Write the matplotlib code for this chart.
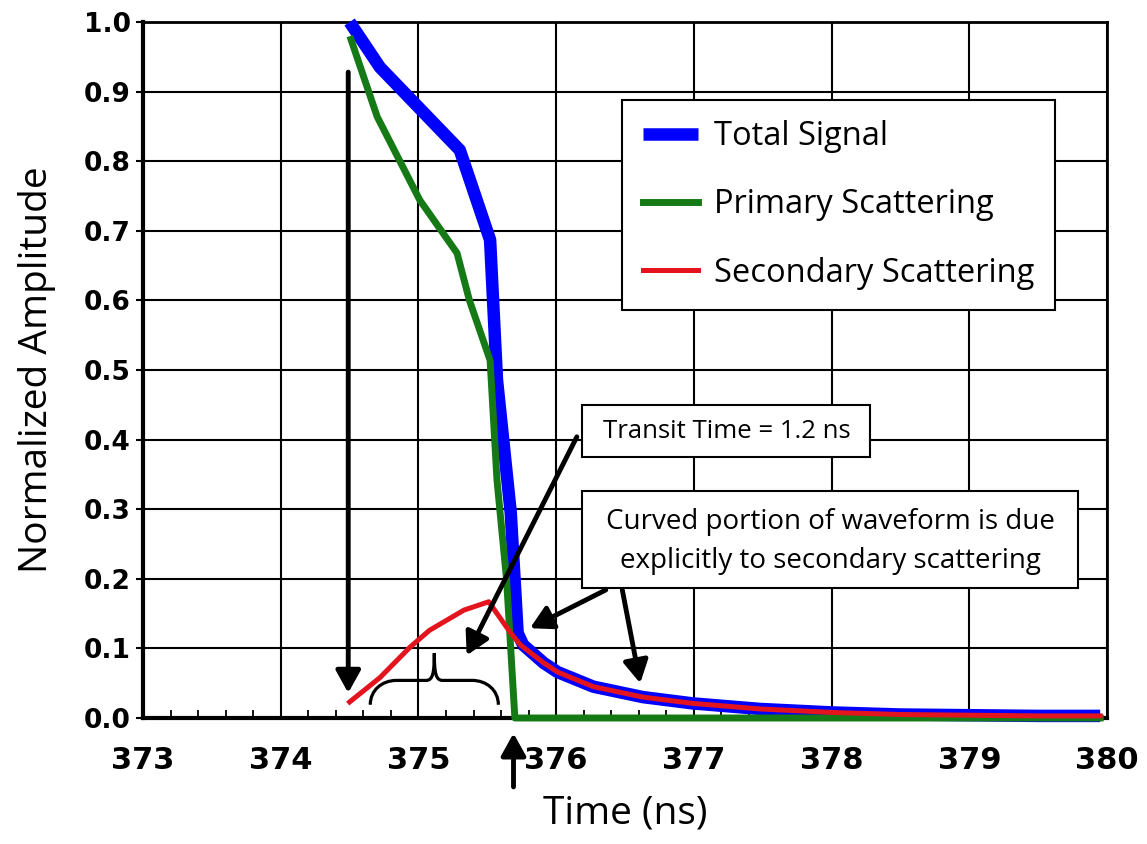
import matplotlib
matplotlib.use("Agg")
import matplotlib.pyplot as plt
from matplotlib.patches import Rectangle, PathPatch
from matplotlib.path import Path

# total signal (blue)
t_total = [374.50, 374.72, 375.30, 375.52, 375.57, 375.67, 375.72, 375.76, 375.91,
           376.01, 376.27, 376.63, 376.99, 377.48, 378.0, 378.5, 379.0, 379.5, 379.95]
total = [1.00, 0.935, 0.816, 0.687, 0.486, 0.295, 0.122, 0.105, 0.079,
         0.066, 0.045, 0.030, 0.021, 0.013, 0.008, 0.005, 0.004, 0.003, 0.003]

# primary scattering (green)
t_primary = [374.51, 374.70, 375.01, 375.28, 375.37, 375.52, 375.57, 375.64, 375.70, 379.95]
primary = [0.975, 0.864, 0.744, 0.668, 0.600, 0.514, 0.342, 0.198, 0.0, 0.0]

# secondary scattering (red)
t_secondary = [374.50, 374.72, 374.94, 375.08, 375.33, 375.51, 375.67, 375.74, 375.91,
               376.01, 376.27, 376.63, 376.99, 377.48, 378.0, 378.5, 379.0, 379.5, 379.95]
secondary = [0.023, 0.058, 0.102, 0.126, 0.155, 0.167, 0.122, 0.105, 0.079,
             0.066, 0.045, 0.030, 0.021, 0.013, 0.008, 0.005, 0.004, 0.003, 0.003]

x_ticks = [373, 374, 375, 376, 377, 378, 379, 380]
y_ticks = [0.0, 0.1, 0.2, 0.3, 0.4, 0.5, 0.6, 0.7, 0.8, 0.9, 1.0]

transit_text = "Transit Time = 1.2 ns"
curved_text = "Curved portion of waveform is due\nexplicitly to secondary scattering"

label_font = ["Open Sans", "DejaVu Sans"]
box_font = ["Open Sans", "DejaVu Sans"]

fig = plt.figure(figsize=(11.47, 8.44), dpi=100)
ax = fig.add_axes([0.1247, 0.1493, 0.8405, 0.8246])

ax.plot(t_total, total, color="#0000ff", lw=9, label="Total Signal",
        clip_on=False, zorder=3, solid_capstyle="butt")
ax.plot(t_primary, primary, color="#157a15", lw=5, label="Primary Scattering",
        clip_on=False, zorder=4)
ax.plot(t_secondary, secondary, color="#e3141e", lw=3.6, label="Secondary Scattering",
        clip_on=False, zorder=4)

ax.set_xlim(373, 380)
ax.set_ylim(0, 1.0)
ax.set_xticks(x_ticks)
ax.set_yticks(y_ticks)
ax.set_xticks([373 + 0.2 * i for i in range(36)], minor=True)
ax.set_xticklabels([str(v) for v in x_ticks])
ax.set_yticklabels([f"{v:.1f}" for v in y_ticks])
ax.grid(True, which="major", color="black", lw=1.5, zorder=1)
ax.set_axisbelow(True)

for lbl in ax.get_xticklabels() + ax.get_yticklabels():
    lbl.set_fontfamily("DejaVu Sans")
    lbl.set_fontweight("bold")
ax.tick_params(axis="y", labelsize=19, length=5, width=1.5, pad=4)
ax.tick_params(axis="x", which="major", labelsize=22, length=0, pad=20)
ax.tick_params(axis="x", which="minor", direction="in", length=6, width=1.3)

for side in ("left", "bottom"):
    ax.spines[side].set_linewidth(3)
for side in ("top", "right"):
    ax.spines[side].set_linewidth(2)

ax.set_ylabel("Normalized Amplitude", fontsize=28, family=label_font, labelpad=20)
ax.set_xlabel("Time (ns)", fontsize=28, family=label_font, labelpad=14)

leg = ax.legend(loc="upper left", bbox_to_anchor=(376.48, 0.888),
                bbox_transform=ax.transData, frameon=True, fancybox=False,
                edgecolor="black", framealpha=1, prop={"family": box_font, "size": 23.5},
                handlelength=1.7, handletextpad=0.5, labelspacing=1.08,
                borderpad=0.62, borderaxespad=0)
leg.get_frame().set_linewidth(1.5)
leg.set_zorder(6)

# text boxes
ax.add_patch(Rectangle((376.19, 0.375), 2.09, 0.075, fc="white", ec="black",
                       lw=1.5, zorder=6, clip_on=False))
ax.text(377.24, 0.412, transit_text, ha="center", va="center", fontsize=18.5,
        family=box_font, zorder=7)
ax.add_patch(Rectangle((376.19, 0.187), 3.60, 0.139, fc="white", ec="black",
                       lw=1.5, zorder=6, clip_on=False))
ax.text(377.99, 0.2535, curved_text, ha="center", va="center", fontsize=20,
        family=box_font, linespacing=1.55, zorder=7)

# arrows
arrow = dict(arrowstyle="-|>,head_length=0.45,head_width=0.25", color="black",
             lw=3.5, mutation_scale=30, shrinkA=0, shrinkB=0)
arrows = [((374.49, 0.928), (374.49, 0.036)),
          ((375.69, -0.099), (375.69, -0.022)),
          ((376.15, 0.404), (375.35, 0.090)),
          ((376.36, 0.184), (375.81, 0.129)),
          ((376.48, 0.184), (376.61, 0.050))]
for tail, head in arrows:
    ax.annotate("", xy=head, xytext=tail, arrowprops=arrow,
                annotation_clip=False, zorder=8)

# curly brace spanning the transit interval
xl, xr, yb, ym, yt = 374.65, 375.58, 0.019, 0.054, 0.093
xm = (xl + xr) / 2
r, d = 0.19, 0.06
verts = [(xl, yb),
         (xl, yb + 0.6 * (ym - yb)), (xl + 0.45 * r, ym), (xl + r, ym),
         (xm - d, ym),
         (xm - 0.2 * d, ym), (xm, ym + 0.01), (xm, yt),
         (xm, ym + 0.01), (xm + 0.2 * d, ym), (xm + d, ym),
         (xr - r, ym),
         (xr - 0.45 * r, ym), (xr, yb + 0.6 * (ym - yb)), (xr, yb)]
codes = ([Path.MOVETO] + [Path.CURVE4] * 3 + [Path.LINETO] + [Path.CURVE4] * 6
         + [Path.LINETO] + [Path.CURVE4] * 3)
ax.add_patch(PathPatch(Path(verts, codes), fc="none", ec="black", lw=2.3, zorder=8))

fig.savefig("out.png", dpi=100)
